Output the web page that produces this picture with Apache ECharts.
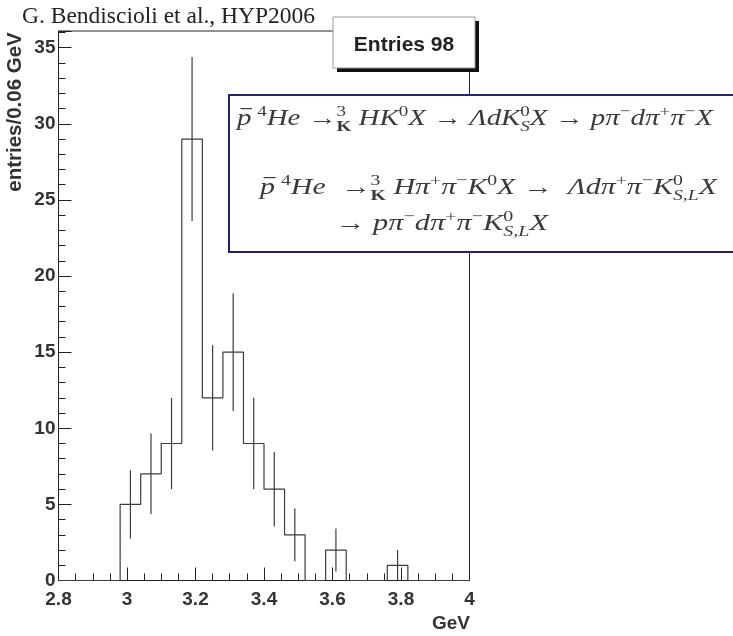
<!DOCTYPE html>
<html>
<head>
<meta charset="utf-8">
<script src="https://cdn.jsdelivr.net/npm/echarts@6/dist/echarts.min.js"></script>
<style>
  html, body { margin: 0; padding: 0; background: #fff; }
  #chart { width: 733px; height: 636px; }
</style>
</head>
<body>
<div id="chart"></div>
<script>
// Invariant-mass histogram, 0.06 GeV bins from 2.8 to 4.0 GeV
const binEdges = [2.8, 2.86, 2.92, 2.98, 3.04, 3.10, 3.16, 3.22, 3.28, 3.34, 3.40,
                  3.46, 3.52, 3.58, 3.64, 3.70, 3.76, 3.82, 3.88, 3.94, 4.0];
const counts   = [0, 0, 0, 5, 7, 9, 29, 12, 15, 9, 6, 3, 0, 2, 0, 0, 1, 0, 0, 0];
const errors   = [0, 0, 0, 2.24, 2.65, 3, 5.39, 3.46, 3.87, 3, 2.45, 1.73, 0, 1.41, 0, 0, 1, 0, 0, 0];
const xRange = [2.8, 4.0];
const yRange = [0, 36.1];
const titleText = 'G. Bendiscioli et al., HYP2006';
const yTitle = 'entries/0.06 GeV';
const xTitle = 'GeV';
const statsText = 'Entries 98';

const INK = '#333';
const SANS = '"Liberation Sans", Arial, sans-serif';
const SERIF = '"Liberation Serif", "DejaVu Serif", serif';

// Outline of the histogram: one point per bin low edge, closing at the upper edge
const outline = counts.map((c, i) => [binEdges[i], c]).concat([[binEdges[binEdges.length - 1], 0]]);
// Error bars at bin centres for filled bins
const errBars = counts
  .map((c, i) => [(binEdges[i] + binEdges[i + 1]) / 2, c, errors[i]])
  .filter(d => d[1] > 0);

// ---- small typesetter for the reaction formulas ----
const measure = (() => {
  const ctx = document.createElement('canvas').getContext('2d');
  return (t, font) => { ctx.font = font; return ctx.measureText(t).width; };
})();
const fontOf = (size, italic, bold) =>
  (italic ? 'italic ' : '') + (bold ? 'bold ' : '') + size + 'px ' + SERIF;
const FORMULA_INK = '#3a3a3a';

function typeset(tokens, size) {
  const kids = [];
  const small = size * 0.66;
  let x = 0;
  const put = (text, px, base, sz, it, bold) => {
    kids.push({
      type: 'text', x: px, y: base - 0.34 * sz, z: 110,
      style: { text, font: fontOf(sz, it, bold), fill: FORMULA_INK, align: 'left', verticalAlign: 'middle' }
    });
    return measure(text, fontOf(sz, it, bold));
  };
  tokens.forEach(tk => {
    const kind = tk[0];
    if (kind === 'i' || kind === 'r') {
      const w = put(tk[1], x, 0, size, kind === 'i', false);
      if (tk[2] === 'bar') {
        kids.push({ type: 'line', z: 110,
          shape: { x1: x + 0.12 * size, y1: -0.8 * size, x2: x + 0.52 * size, y2: -0.8 * size },
          style: { stroke: FORMULA_INK, lineWidth: 1.2 } });
      }
      x += w;
    } else if (kind === 'gap') {
      x += tk[1] * size;
    } else if (kind === 'sup') {
      x += put(tk[1], x, -0.42 * size, small, false, false);
    } else if (kind === 'ss') {
      const w1 = put(tk[1], x, -0.42 * size, small, false, false);
      const w2 = put(tk[2], x, 0.24 * size, small, !!tk[3], !!tk[4]);
      x += Math.max(w1, w2);
    }
  });
  return { kids, width: x };
}

const line1 = [
  ['i', 'p', 'bar'], ['gap', 0.2], ['sup', '4'], ['i', 'He'], ['r', ' →'], ['ss', '3', 'K', false, true],
  ['i', ' HK'], ['sup', '0'], ['i', 'X'], ['r', ' → '], ['i', 'Λd'], ['i', 'K'], ['ss', '0', 'S', true],
  ['i', 'X'], ['r', ' → '], ['i', 'pπ'], ['sup', '−'], ['i', 'dπ'], ['sup', '+'], ['i', 'π'], ['sup', '−'], ['i', 'X']
];
const line2 = [
  ['i', 'p', 'bar'], ['gap', 0.2], ['sup', '4'], ['i', 'He'], ['r', '  →'], ['ss', '3', 'K', false, true],
  ['i', ' Hπ'], ['sup', '+'], ['i', 'π'], ['sup', '−'], ['i', 'K'], ['sup', '0'], ['i', 'X'], ['r', ' →  '],
  ['i', 'Λdπ'], ['sup', '+'], ['i', 'π'], ['sup', '−'], ['i', 'K'], ['ss', '0', 'S,L', true], ['i', 'X']
];
const line3 = [
  ['r', '→ '], ['i', 'pπ'], ['sup', '−'], ['i', 'dπ'], ['sup', '+'], ['i', 'π'], ['sup', '−'],
  ['i', 'K'], ['ss', '0', 'S,L', true], ['i', 'X']
];

function formulaGroup(tokens, x0, x1, baseline, size) {
  const t = typeset(tokens, size);
  return { type: 'group', x: x0, y: baseline, scaleX: (x1 - x0) / t.width, z: 110, children: t.kids };
}

const chart = echarts.init(document.getElementById('chart'), null, { renderer: 'canvas' });

const tickStyle = { color: '#222', width: 1 };
const labelStyle = { fontFamily: SANS, fontWeight: 'bold', fontSize: 19, color: INK };

chart.setOption({
  animation: false,
  backgroundColor: '#fff',
  grid: { left: 58.5, right: 263.5, top: 31, bottom: 55.5, show: true, borderColor: '#222', borderWidth: 1 },
  xAxis: {
    type: 'value', min: xRange[0], max: xRange[1], interval: 0.2,
    axisLine: { lineStyle: tickStyle },
    axisTick: { inside: true, length: 13, lineStyle: tickStyle },
    minorTick: { show: true, splitNumber: 4, length: 7, lineStyle: tickStyle },
    splitLine: { show: false },
    axisLabel: Object.assign({ margin: 10 }, labelStyle)
  },
  yAxis: [
    {
      type: 'value', min: yRange[0], max: yRange[1], interval: 1,
      axisLine: { show: true, lineStyle: tickStyle },
      axisTick: { inside: true, length: 7, lineStyle: tickStyle },
      axisLabel: { show: false },
      splitLine: { show: false }
    },
    {
      type: 'value', min: yRange[0], max: yRange[1], interval: 5, position: 'left', offset: 0,
      axisLine: { show: false },
      axisTick: { show: true, inside: true, length: 13, lineStyle: tickStyle },
      axisLabel: Object.assign({ margin: 3, formatter: v => (v % 5 === 0 ? String(v) : '') }, labelStyle),
      splitLine: { show: false }
    }
  ],
  series: [
    {
      type: 'line', step: 'end', data: outline, symbol: 'none',
      lineStyle: { color: '#3c3c3c', width: 1.2 }, z: 3
    },
    {
      type: 'custom', data: errBars, encode: { x: 0, y: 1 }, z: 4,
      renderItem(params, api) {
        const x = api.value(0), v = api.value(1), e = api.value(2);
        const a = api.coord([x, v - e]);
        const b = api.coord([x, v + e]);
        return { type: 'line', shape: { x1: a[0], y1: a[1], x2: b[0], y2: b[1] },
                 style: { stroke: '#3c3c3c', lineWidth: 1.2 } };
      }
    }
  ],
  graphic: [
    { type: 'text', x: 22, y: 17, z: 100,
      style: { text: titleText, font: '23.5px ' + SERIF, fill: '#222', align: 'left', verticalAlign: 'middle' } },
    { type: 'text', x: 15, y: 112, rotation: Math.PI / 2, z: 100,
      style: { text: yTitle, font: 'bold 20.5px ' + SANS, fill: INK, align: 'center', verticalAlign: 'middle' } },
    { type: 'text', x: 470, y: 624, z: 100,
      style: { text: xTitle, font: 'bold 19px ' + SANS, fill: INK, align: 'right', verticalAlign: 'middle' } },
    // statistics box with drop shadow
    { type: 'rect', z: 100, shape: { x: 337, y: 21, width: 142, height: 51 }, style: { fill: '#111' } },
    { type: 'rect', z: 101, shape: { x: 333, y: 17, width: 142, height: 51 },
      style: { fill: '#fff', stroke: '#999', lineWidth: 1 } },
    { type: 'text', x: 404, y: 45, z: 102,
      style: { text: statsText, font: 'bold 21px ' + SANS, fill: '#222', align: 'center', verticalAlign: 'middle' } },
    // reaction chain box
    { type: 'rect', z: 105, shape: { x: 229, y: 95, width: 520, height: 157 },
      style: { fill: '#fff', stroke: '#23236e', lineWidth: 2 } },
    formulaGroup(line1, 237, 713, 127, 23),
    formulaGroup(line2, 260, 717, 196, 23),
    formulaGroup(line3, 335, 548, 232, 23)
  ]
});
</script>
</body>
</html>
